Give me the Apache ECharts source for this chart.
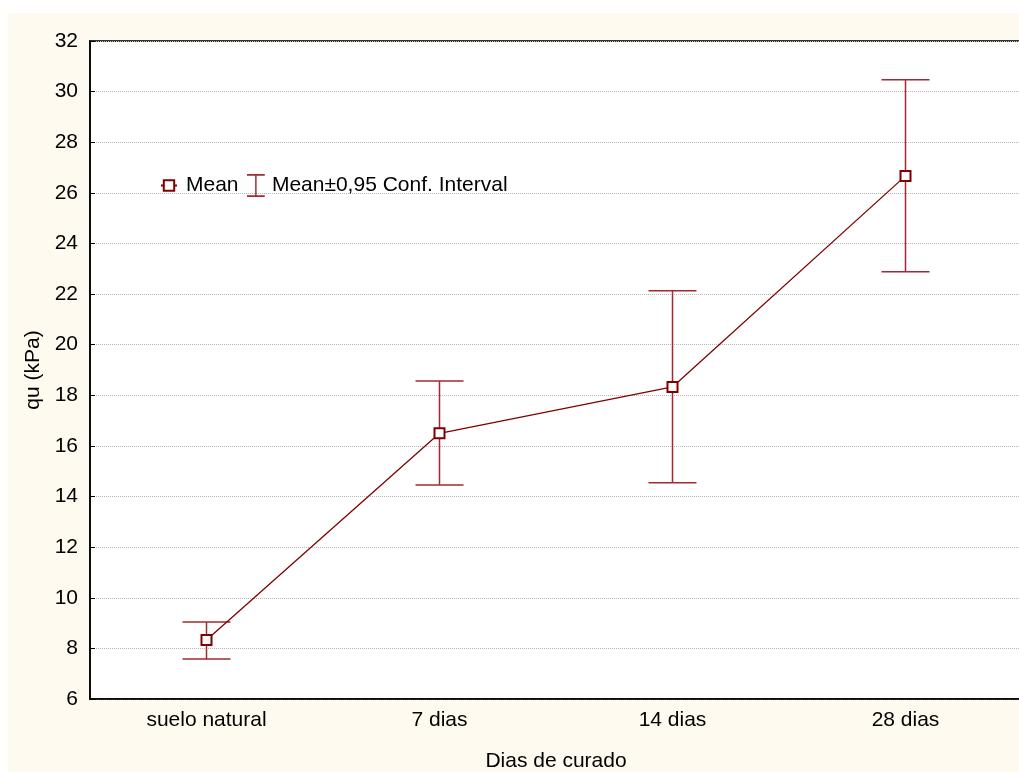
<!DOCTYPE html>
<html>
<head>
<meta charset="utf-8">
<script src="https://cdn.jsdelivr.net/npm/echarts@6/dist/echarts.min.js"></script>
<style>
  html, body { margin: 0; padding: 0; background: #fff; }
  #chart { width: 1019px; height: 772px; }
</style>
</head>
<body>
<div id="chart"></div>
<script>
// curing groups and measured qu values (kPa)
const categories = ['suelo natural', '7 dias', '14 dias', '28 dias'];
const meanValues = [8.33, 16.5, 18.33, 26.67];
const upperCI = [9.04, 18.57, 22.13, 30.47];
const lowerCI = [7.58, 14.46, 14.54, 22.88];

const lineColor = '#800000';
const barColor = '#a02a30';
const font = 'Liberation Sans, Arial, sans-serif';
const fs = 21;

const myChart = echarts.init(document.getElementById('chart'));

const errData = categories.map((c, i) => [i, lowerCI[i], upperCI[i]]);

const option = {
  backgroundColor: '#fff',
  animation: false,
  graphic: [{
    type: 'rect',
    z: -10,
    silent: true,
    shape: { x: 8, y: 13, width: 1011, height: 759 },
    style: { fill: '#fefaf0' }
  }],
  legend: [
    {
      data: ['Mean'],
      left: 160,
      top: 175,
      padding: 0,
      itemWidth: 16,
      itemHeight: 13,
      textStyle: { fontFamily: font, fontSize: fs, color: '#000', padding: [0, 0, 0, 4] }
    },
    {
      data: [{
        name: 'Mean±0,95 Conf. Interval',
        icon: 'path://M0,0H17V1.6H9.2V20.4H17V22H0V20.4H7.8V1.6H0Z'
      }],
      left: 247,
      top: 174,
      padding: 0,
      itemWidth: 18,
      itemHeight: 23,
      textStyle: { fontFamily: font, fontSize: fs, color: '#000', padding: [0, 0, 0, 2] }
    }
  ],
  grid: {
    left: 90,
    top: 41,
    right: -3,
    bottom: 73,
    outerBoundsMode: 'none',
    containLabel: false,
    show: true,
    backgroundColor: '#fff',
    borderColor: '#333',
    borderWidth: 2
  },
  xAxis: {
    type: 'category',
    data: categories,
    boundaryGap: true,
    axisLine: { lineStyle: { color: '#000', width: 1.5 } },
    axisTick: { inside: true, alignWithLabel: true, length: 6, lineStyle: { color: '#000' } },
    axisLabel: { fontFamily: font, fontSize: fs, color: '#000', margin: 11 },
    name: 'Dias de curado',
    nameLocation: 'middle',
    nameGap: 52,
    nameTextStyle: { fontFamily: font, fontSize: fs, color: '#000' }
  },
  yAxis: {
    type: 'value',
    min: 6,
    max: 32,
    interval: 2,
    axisLine: { show: true, lineStyle: { color: '#000', width: 1.5 } },
    axisTick: { show: true, inside: true, length: 5, lineStyle: { color: '#000' } },
    axisLabel: { fontFamily: font, fontSize: fs, color: '#000', margin: 12 },
    splitLine: { lineStyle: { color: '#b8b8b8', type: 'dotted', width: 1 } },
    name: 'qu (kPa)',
    nameLocation: 'middle',
    nameGap: 46,
    nameTextStyle: { fontFamily: font, fontSize: fs, color: '#000' }
  },
  series: [
    {
      name: 'Mean±0,95 Conf. Interval',
      type: 'custom',
      itemStyle: { color: barColor },
      data: errData,
      z: 2,
      renderItem: function (params, api) {
        const x = api.value(0);
        const lo = api.coord([x, api.value(1)]);
        const hi = api.coord([x, api.value(2)]);
        const hw = 24;
        const st = { stroke: barColor, lineWidth: 1.5 };
        return {
          type: 'group',
          children: [
            { type: 'line', shape: { x1: hi[0], y1: hi[1], x2: lo[0], y2: lo[1] }, style: st },
            { type: 'line', shape: { x1: hi[0] - hw, y1: hi[1], x2: hi[0] + hw, y2: hi[1] }, style: st },
            { type: 'line', shape: { x1: lo[0] - hw, y1: lo[1], x2: lo[0] + hw, y2: lo[1] }, style: st }
          ]
        };
      }
    },
    {
      name: 'Mean',
      type: 'line',
      data: meanValues,
      z: 3,
      symbol: 'rect',
      symbolSize: 10,
      lineStyle: { color: lineColor, width: 1.3 },
      itemStyle: { color: '#fff', borderColor: lineColor, borderWidth: 2 }
    }
  ]
};

myChart.setOption(option);
</script>
</body>
</html>
